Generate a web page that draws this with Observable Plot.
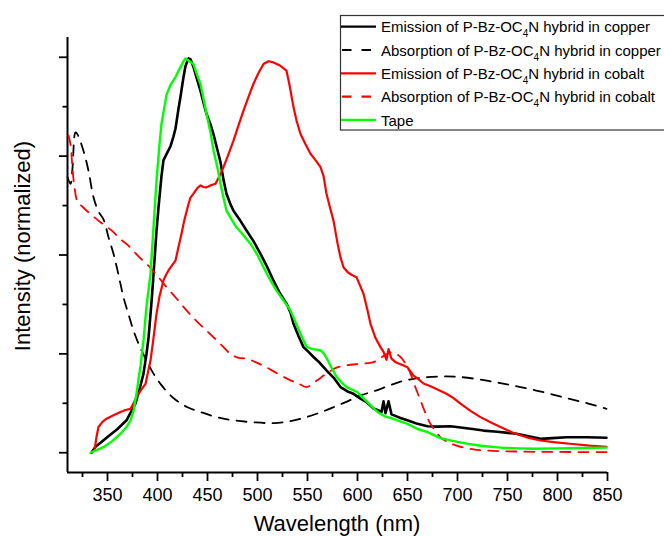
<!DOCTYPE html>
<html>
<head>
<meta charset="utf-8">
<script src="https://cdn.jsdelivr.net/npm/d3@7"></script>
<script src="https://cdn.jsdelivr.net/npm/@observablehq/plot@0.6"></script>
<style>
  html, body { margin: 0; padding: 0; background: #fff; overflow: hidden; }
  #chart { width: 664px; height: 536px; }
</style>
</head>
<body>
<div id="chart"></div>
<script>
// ---- data (wavelength nm, normalized intensity) ----
const copperEmission = [[334,0.0],[338,0.015],[343,0.025],[350,0.04],[360,0.06],[369,0.082],[375,0.11],[378,0.125],[383,0.17],[386,0.2],[389,0.25],[391,0.29],[394,0.38],[396,0.45],[399,0.56],[401,0.62],[404,0.70],[406,0.74],[410,0.76],[413,0.775],[416,0.80],[418,0.82],[421,0.87],[423,0.90],[426,0.95],[428,0.978],[431,0.997],[433,0.995],[436,0.975],[440,0.94],[443,0.915],[446,0.885],[449,0.857],[453,0.83],[456,0.805],[460,0.765],[463,0.735],[466,0.69],[469,0.655],[473,0.628],[476,0.612],[482,0.59],[489,0.562],[496,0.535],[503,0.503],[510,0.468],[516,0.435],[522,0.405],[529,0.377],[533,0.355],[536,0.326],[541,0.295],[546,0.267],[551,0.255],[556,0.242],[562,0.228],[569,0.208],[576,0.19],[583,0.166],[590,0.155],[596,0.149],[603,0.137],[609,0.128],[616,0.112],[622,0.106],[624,0.103],[626,0.13],[628,0.10],[631,0.13],[634,0.097],[639,0.092],[643,0.088],[652,0.08],[660,0.073],[670,0.067],[680,0.066],[693,0.067],[705,0.063],[715,0.06],[726,0.056],[740,0.053],[759,0.048],[770,0.042],[783,0.035],[795,0.037],[809,0.039],[830,0.039],[849,0.038]];

const copperAbsorption = [[310,0.697],[313,0.68],[315,0.72],[318,0.81],[320,0.805],[326,0.763],[331,0.713],[336,0.646],[341,0.61],[346,0.59],[351,0.545],[356,0.503],[361,0.45],[366,0.393],[371,0.35],[376,0.309],[382,0.27],[389,0.233],[396,0.2],[403,0.174],[411,0.15],[419,0.132],[430,0.115],[443,0.103],[459,0.09],[476,0.082],[496,0.077],[516,0.075],[533,0.08],[549,0.09],[563,0.102],[576,0.115],[590,0.13],[603,0.145],[616,0.155],[630,0.168],[643,0.18],[656,0.187],[670,0.191],[686,0.193],[700,0.192],[723,0.185],[743,0.176],[763,0.166],[786,0.153],[809,0.138],[830,0.125],[849,0.111]];

const cobaltEmission = [[337,0.005],[339,0.04],[341,0.065],[345,0.078],[349,0.086],[356,0.095],[363,0.103],[368,0.108],[373,0.111],[376,0.125],[379,0.141],[384,0.16],[388,0.174],[391,0.21],[393,0.233],[396,0.29],[399,0.351],[402,0.395],[406,0.436],[409,0.452],[411,0.461],[414,0.472],[418,0.486],[421,0.52],[424,0.554],[427,0.59],[431,0.629],[433,0.645],[436,0.655],[440,0.67],[443,0.676],[446,0.672],[449,0.671],[453,0.676],[458,0.68],[462,0.70],[466,0.722],[471,0.755],[476,0.789],[481,0.828],[486,0.865],[491,0.9],[496,0.933],[501,0.96],[506,0.983],[511,0.99],[516,0.987],[522,0.98],[529,0.966],[532,0.93],[536,0.874],[539,0.84],[543,0.806],[548,0.78],[553,0.756],[558,0.74],[563,0.722],[566,0.70],[569,0.655],[573,0.615],[576,0.587],[580,0.53],[583,0.494],[586,0.469],[590,0.457],[594,0.45],[599,0.444],[603,0.42],[606,0.402],[610,0.36],[613,0.326],[618,0.29],[623,0.267],[626,0.255],[629,0.235],[631,0.262],[634,0.238],[638,0.229],[645,0.222],[650,0.216],[656,0.195],[660,0.188],[666,0.175],[673,0.168],[680,0.16],[689,0.149],[696,0.138],[703,0.124],[713,0.106],[723,0.09],[733,0.077],[743,0.065],[756,0.05],[769,0.039],[783,0.031],[796,0.027],[815,0.022],[832,0.018],[849,0.015]];

const cobaltAbsorption = [[311,0.802],[313,0.78],[315,0.72],[317,0.67],[320,0.635],[325,0.622],[330,0.61],[336,0.597],[343,0.583],[350,0.57],[356,0.558],[362,0.542],[369,0.528],[376,0.51],[382,0.494],[389,0.478],[399,0.45],[409,0.419],[419,0.39],[429,0.36],[439,0.333],[449,0.309],[461,0.28],[473,0.25],[481,0.24],[489,0.238],[499,0.228],[509,0.216],[520,0.2],[533,0.183],[541,0.175],[549,0.166],[559,0.182],[569,0.2],[579,0.215],[589,0.221],[603,0.225],[616,0.229],[623,0.24],[634,0.254],[643,0.242],[648,0.225],[653,0.2],[658,0.165],[663,0.132],[668,0.1],[673,0.073],[678,0.055],[683,0.039],[691,0.026],[699,0.018],[712,0.01],[726,0.006],[760,0.003],[800,0.002],[849,0.0015]];

const tape = [[333,0],[340,0.008],[346,0.014],[355,0.03],[363,0.048],[369,0.065],[373,0.082],[376,0.105],[379,0.149],[383,0.22],[386,0.284],[389,0.37],[393,0.452],[396,0.57],[399,0.688],[402,0.78],[404,0.832],[407,0.875],[409,0.905],[413,0.93],[418,0.95],[422,0.97],[426,0.99],[428,0.997],[432,0.99],[436,0.982],[439,0.96],[443,0.932],[446,0.895],[449,0.857],[453,0.81],[456,0.764],[460,0.72],[463,0.68],[466,0.645],[469,0.612],[474,0.59],[479,0.57],[486,0.55],[493,0.528],[500,0.5],[506,0.469],[512,0.44],[519,0.41],[526,0.385],[533,0.36],[538,0.33],[543,0.301],[549,0.268],[555,0.262],[563,0.259],[566,0.252],[569,0.24],[574,0.215],[579,0.192],[584,0.178],[589,0.166],[596,0.158],[600,0.153],[605,0.14],[610,0.128],[615,0.115],[620,0.103],[627,0.092],[633,0.088],[642,0.08],[650,0.073],[660,0.06],[670,0.052],[683,0.037],[695,0.03],[709,0.023],[725,0.017],[743,0.013],[760,0.011],[776,0.01],[800,0.011],[825,0.012],[849,0.013]];

const xMajorTicks = [350, 400, 450, 500, 550, 600, 650, 700, 750, 800, 850];
const xMinorTicks = [325, 375, 425, 475, 525, 575, 625, 675, 725, 775, 825];
const yMajorTicks = [0, 0.25, 0.5, 0.75, 1];
const yMinorTicks = [0.125, 0.375, 0.625, 0.875];

const xLabel = "Wavelength (nm)";
const yLabel = "Intensity (normalized)";

const legendParts = [
  ["Emission of P-Bz-OC", "4", "N hybrid in copper"],
  ["Absorption of P-Bz-OC", "4", "N hybrid in copper"],
  ["Emission of P-Bz-OC", "4", "N hybrid in cobalt"],
  ["Absorption of P-Bz-OC", "4", "N hybrid in cobalt"],
  ["Tape", "", ""]
];
const legendColors = ["#000000", "#000000", "#ff0000", "#ff0000", "#00ff00"];
const legendDashed = [false, true, false, true, false];

// ---- chart ----
const X = d => d[0], Y = d => d[1];
const dash = "10,8";
const font = "'Liberation Sans', Arial, sans-serif";

const chart = Plot.plot({
  width: 664,
  height: 536,
  marginLeft: 67,
  marginRight: 57,
  marginTop: 37,
  marginBottom: 64,
  style: {fontFamily: font, fontSize: "18px", color: "#000", background: "#fff"},
  x: {domain: [310, 850]},
  y: {domain: [-0.05, 1.05]},
  marks: [
    Plot.axisX({ticks: xMajorTicks, tickSize: 9, tickPadding: 7, strokeWidth: 1.8, fontSize: 18, label: null}),
    Plot.axisX({ticks: xMinorTicks, tickSize: 5, tickFormat: () => "", strokeWidth: 1.8, label: null}),
    Plot.axisY({ticks: yMajorTicks, tickSize: 8, tickFormat: () => "", strokeWidth: 1.8, label: null}),
    Plot.axisY({ticks: yMinorTicks, tickSize: 4.5, tickFormat: () => "", strokeWidth: 1.8, label: null}),
    Plot.ruleX([310], {stroke: "#000", strokeWidth: 2}),
    Plot.ruleY([-0.05], {stroke: "#000", strokeWidth: 2}),
    Plot.line(copperEmission, {x: X, y: Y, stroke: legendColors[0], strokeWidth: 2.6}),
    Plot.line(copperAbsorption, {x: X, y: Y, stroke: legendColors[1], strokeWidth: 1.8, strokeDasharray: dash, curve: "catmull-rom"}),
    Plot.line(cobaltEmission, {x: X, y: Y, stroke: legendColors[2], strokeWidth: 2.2}),
    Plot.line(cobaltAbsorption, {x: X, y: Y, stroke: legendColors[3], strokeWidth: 1.8, strokeDasharray: dash, curve: "catmull-rom"}),
    Plot.line(tape, {x: X, y: Y, stroke: legendColors[4], strokeWidth: 2.4})
  ]
});
document.getElementById("chart").appendChild(chart);

// ---- axis titles ----
const svg = d3.select(chart);
svg.append("text")
  .attr("x", 337).attr("y", 531)
  .attr("text-anchor", "middle")
  .attr("font-family", font).attr("font-size", 22).attr("fill", "#000")
  .text(xLabel);
svg.append("text")
  .attr("transform", "translate(30,246) rotate(-90)")
  .attr("text-anchor", "middle")
  .attr("font-family", font).attr("font-size", 22).attr("fill", "#000")
  .text(yLabel);

// ---- legend ----
const lg = svg.append("g").attr("font-family", font).attr("font-size", 15).attr("text-anchor", "start");
lg.append("rect")
  .attr("x", 340.5).attr("y", 15.5).attr("width", 340).attr("height", 114.5)
  .attr("fill", "#fff").attr("stroke", "#333").attr("stroke-width", 1.2);
legendParts.forEach((parts, i) => {
  const base = 32.3 + i * 23.3;
  const ly = base - 5.6;
  lg.append("line")
    .attr("x1", legendDashed[i] ? 342 : 341).attr("x2", legendDashed[i] ? 371 : 376)
    .attr("y1", ly).attr("y2", ly)
    .attr("stroke", legendColors[i]).attr("stroke-width", 2.2)
    .attr("stroke-dasharray", legendDashed[i] ? "9.5,10" : null);
  const t = lg.append("text").attr("x", 381).attr("y", base).attr("fill", "#000").attr("text-anchor", "start");
  t.append("tspan").text(parts[0]);
  if (parts[1]) {
    t.append("tspan").attr("font-size", 10).attr("dy", 5).text(parts[1]);
    t.append("tspan").attr("dy", -5).text(parts[2]);
  }
});
</script>
</body>
</html>
